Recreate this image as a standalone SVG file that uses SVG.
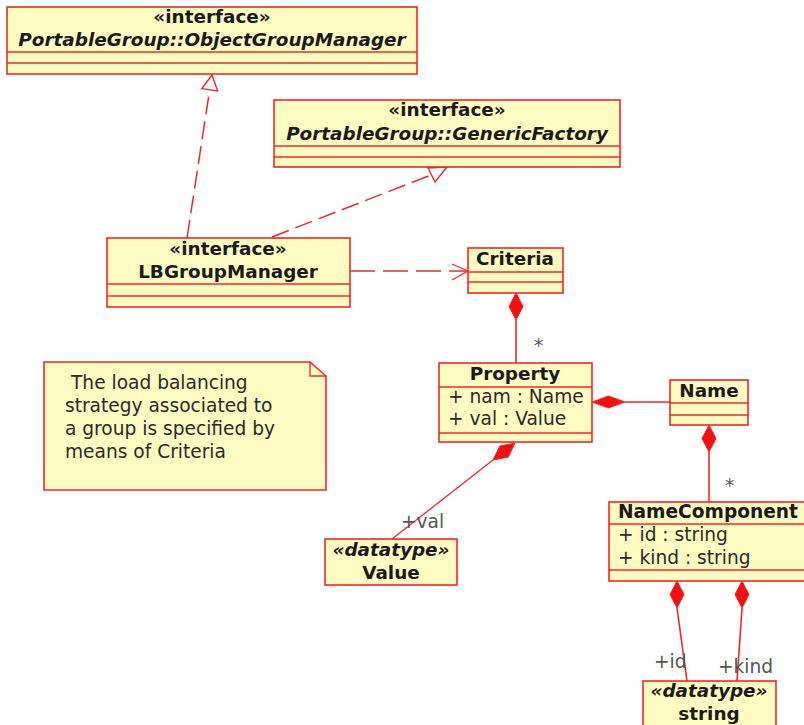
<svg xmlns="http://www.w3.org/2000/svg" width="804" height="725" viewBox="0 0 804 725">
<style>
.box{fill:#fffcc2;stroke:#f02828;stroke-width:1.6}
.ln{stroke:#f02828;stroke-width:1.6;fill:none}
.ln1{stroke:#f02828;stroke-width:1.3;fill:none}
.dash{stroke:#f02828;stroke-width:1.5;fill:none;stroke-dasharray:18 7}
.dep{stroke:#f02828;stroke-width:1.5;fill:none;stroke-dasharray:25 8}
.dia{fill:#f01010;stroke:#f02828;stroke-width:1}
.tri{fill:#ffffff;stroke:#f02828;stroke-width:1.4}
text{font-family:"DejaVu Sans",Verdana,sans-serif;font-size:18.6px;fill:#1a1a1a}
.b{font-weight:bold;text-anchor:middle;font-size:18.4px}
.bi{font-weight:bold;font-style:italic;text-anchor:middle;font-size:18.4px}
.a{fill:#2a2a2a}
.lbl{fill:#555555}
</style>
<rect width="804" height="725" fill="#ffffff"/>
<g id="connectors">
  <line class="dash" x1="187" y1="238" x2="209.7" y2="89.8"/>
  <polygon class="tri" points="212,75 201.8,88.6 217.6,91"/>
  <line class="dash" x1="272" y1="237" x2="431" y2="175"/>
  <polygon class="tri" points="447,167 428,168 435,182"/>
  <line class="dep" x1="350" y1="271" x2="468" y2="271"/>
  <polyline class="ln1" points="452,264 468,271 452,280"/>
  <line class="ln" x1="516" y1="320" x2="516" y2="363"/>
  <polygon class="dia" points="516,293 523,306.5 516,320 509,306.5"/>
  <text class="lbl" x="534" y="352">*</text>
  <line class="ln" x1="625" y1="402" x2="670" y2="402"/>
  <polygon class="dia" points="592,402 608.5,396 625,402 608.5,408"/>
  <line class="ln" x1="709" y1="452" x2="709" y2="502"/>
  <polygon class="dia" points="709,425 716,438.5 709,452 702,438.5"/>
  <text class="lbl" x="725" y="492">*</text>
  <line class="ln1" x1="493" y1="460" x2="392" y2="539"/>
  <polygon class="dia" points="515,443 508.3,457.1 493,460 499.7,446.1"/>
  <text class="lbl" x="401" y="528">+val</text>
  <line class="ln" x1="677" y1="608" x2="687" y2="681"/>
  <polygon class="dia" points="677,581 684,594.5 677,608 670,594.5"/>
  <line class="ln" x1="742" y1="608" x2="737" y2="681"/>
  <polygon class="dia" points="742,581 749,594.5 742,608 735,594.5"/>
  <text class="lbl" x="654" y="668">+id</text>
  <text class="lbl" x="718" y="673">+kind</text>
</g>
<g id="ObjectGroupManager">
  <rect class="box" x="7" y="7" width="410" height="67"/>
  <line class="ln" x1="7" y1="52" x2="417" y2="52"/>
  <line class="ln" x1="7" y1="63" x2="417" y2="63"/>
  <text class="b" x="212" y="23">«interface»</text>
  <text class="bi" x="212" y="46">PortableGroup::ObjectGroupManager</text>
</g>
<g id="GenericFactory">
  <rect class="box" x="274" y="100" width="346" height="67"/>
  <line class="ln" x1="274" y1="146" x2="620" y2="146"/>
  <line class="ln" x1="274" y1="157" x2="620" y2="157"/>
  <text class="b" x="447" y="116">«interface»</text>
  <text class="bi" x="447" y="140">PortableGroup::GenericFactory</text>
</g>
<g id="LBGroupManager">
  <rect class="box" x="107" y="238" width="243" height="69"/>
  <line class="ln" x1="107" y1="284" x2="350" y2="284"/>
  <line class="ln" x1="107" y1="296" x2="350" y2="296"/>
  <text class="b" x="228" y="255">«interface»</text>
  <text class="b" x="228" y="278">LBGroupManager</text>
</g>
<g id="Criteria">
  <rect class="box" x="468" y="248" width="95" height="45"/>
  <line class="ln" x1="468" y1="272" x2="563" y2="272"/>
  <line class="ln" x1="468" y1="282" x2="563" y2="282"/>
  <text class="b" x="515" y="265">Criteria</text>
</g>
<g id="Property">
  <rect class="box" x="439" y="363" width="153" height="79"/>
  <line class="ln" x1="439" y1="387" x2="592" y2="387"/>
  <line class="ln" x1="439" y1="433" x2="592" y2="433"/>
  <text class="b" x="515" y="380">Property</text>
  <text class="a" x="448" y="403">+ nam : Name</text>
  <text class="a" x="448" y="425">+ val : Value</text>
</g>
<g id="Name">
  <rect class="box" x="670" y="380" width="78" height="45"/>
  <line class="ln" x1="670" y1="403" x2="748" y2="403"/>
  <line class="ln" x1="670" y1="415" x2="748" y2="415"/>
  <text class="b" x="709" y="397">Name</text>
</g>
<g id="NameComponent">
  <rect class="box" x="609" y="502" width="205" height="79"/>
  <line class="ln" x1="609" y1="524" x2="804" y2="524"/>
  <line class="ln" x1="609" y1="570" x2="804" y2="570"/>
  <text x="618" y="518" font-weight="bold" font-size="18.4">NameComponent</text>
  <text class="a" x="618" y="541">+ id : string</text>
  <text class="a" x="618" y="564">+ kind : string</text>
</g>
<g id="Value">
  <rect class="box" x="325" y="539" width="132" height="46"/>
  <text class="bi" x="391" y="556">«datatype»</text>
  <text class="b" x="391" y="579">Value</text>
</g>
<g id="string">
  <rect class="box" x="643" y="681" width="133" height="60"/>
  <text class="bi" x="709" y="697">«datatype»</text>
  <text class="b" x="709" y="720">string</text>
</g>
<g id="note">
  <path class="box" d="M44,362 H310 L326,376 V490 H44 Z"/>
  <path class="ln1" d="M310,362 V376 H326"/>
  <text class="a" x="71" y="389">The load balancing</text>
  <text class="a" x="65" y="412">strategy associated to</text>
  <text class="a" x="65" y="435">a group is specified by</text>
  <text class="a" x="65" y="458">means of Criteria</text>
</g>
</svg>
